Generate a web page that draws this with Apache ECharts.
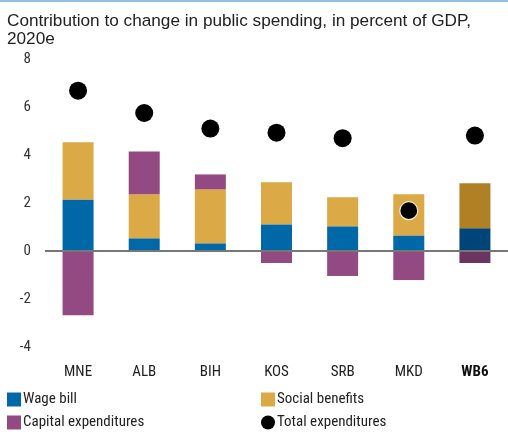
<!DOCTYPE html>
<html>
<head>
<meta charset="utf-8">
<style>
  html, body { margin: 0; padding: 0; background: #fff; }
  #chart { width: 508px; height: 434px; }
</style>
<script src="https://cdn.jsdelivr.net/npm/echarts@6/dist/echarts.min.js"></script>
</head>
<body>
<div id="chart"></div>
<script>
// Economies and their contributions (percent of GDP, 2020e)
const categories = ['MNE', 'ALB', 'BIH', 'KOS', 'SRB', 'MKD', 'WB6'];
const wageBill = [2.15, 0.53, 0.32, 1.11, 1.03, 0.65, 0.95];
const socialBenefits = [2.38, 1.83, 2.25, 1.75, 1.21, 1.71, 1.87];
const capitalExpenditures = [-2.68, 1.79, 0.62, -0.5, -1.04, -1.21, -0.5];
const totalExpenditures = [6.68, 5.75, 5.1, 4.93, 4.7, 1.68, 4.81];
const yTicks = [-4, -2, 0, 2, 4, 6, 8];

const narrow = '"Liberation Sans Narrow", "Roboto Condensed", "DejaVu Sans Condensed", "Liberation Sans", sans-serif';
const regular = '"Liberation Sans", Arial, sans-serif';

// Regional aggregate (last category) is drawn with darker shades
const palette = {
  wage: ['#0068a6', '#00457a'],
  social: ['#dba945', '#b08024'],
  capital: ['#934a83', '#6b3461']
};

function shaded(values, key) {
  return values.map((v, i) => ({
    value: v,
    itemStyle: { color: categories[i] === 'WB6' ? palette[key][1] : palette[key][0] }
  }));
}

// A dot that sits on top of a bar gets a thin light rim so it stays visible
function dots(values) {
  return values.map((v, i) => {
    const top = wageBill[i] + socialBenefits[i] + Math.max(capitalExpenditures[i], 0);
    const onBar = v > 0 && v < top;
    return onBar
      ? { value: v, itemStyle: { color: '#000', borderColor: '#f4ecd9', borderWidth: 1.2 } }
      : { value: v };
  });
}

function legendItem(name, left, top, icon) {
  return {
    data: [name],
    left: left,
    top: top,
    padding: 0,
    icon: icon,
    itemWidth: 14,
    itemHeight: 14,
    selectedMode: false,
    textStyle: { fontFamily: narrow, fontSize: 15, color: '#222', padding: [0, 0, 0, -3] }
  };
}

const chart = echarts.init(document.getElementById('chart'), null, { renderer: 'canvas' });

chart.setOption({
  animation: false,
  backgroundColor: '#fff',
  graphic: [
    { type: 'rect', left: 0, top: 0, shape: { width: 508, height: 2 }, style: { fill: '#8ec1e3' } }
  ],
  title: {
    text: 'Contribution to change in public spending, in percent of GDP,\n2020e',
    left: 7,
    top: 12,
    padding: 0,
    textStyle: { fontFamily: regular, fontSize: 17.2, fontWeight: 'normal', color: '#222', lineHeight: 18 }
  },
  legend: [
    legendItem('Wage bill', 7, 392, 'rect'),
    legendItem('Social benefits', 261, 392, 'rect'),
    legendItem('Capital expenditures', 7, 415, 'rect'),
    legendItem('Total expenditures', 261, 415, 'circle')
  ],
  grid: { left: 45, top: 59, width: 469, height: 288, containLabel: false },
  xAxis: {
    type: 'category',
    data: categories,
    axisLine: { show: false, onZero: false },
    axisTick: { show: false },
    axisLabel: {
      margin: 18,
      fontFamily: narrow,
      fontSize: 15,
      color: '#222',
      formatter: v => v === 'WB6' ? '{b|' + v + '}' : v,
      rich: { b: { fontFamily: narrow, fontSize: 15, fontWeight: 'bold', color: '#111' } }
    }
  },
  yAxis: {
    type: 'value',
    min: yTicks[0],
    max: yTicks[yTicks.length - 1],
    interval: 2,
    splitLine: { show: false },
    axisLine: { show: false },
    axisTick: { show: false },
    axisLabel: { margin: 14, fontFamily: narrow, fontSize: 15, color: '#333', padding: [3, 0, 0, 0] }
  },
  series: [
    {
      name: 'Wage bill',
      type: 'bar',
      stack: 'parts',
      barWidth: 31,
      itemStyle: { color: palette.wage[0] },
      data: shaded(wageBill, 'wage'),
      markLine: {
        silent: true,
        symbol: 'none',
        label: { show: false },
        lineStyle: { color: '#777', width: 2, type: 'solid' },
        data: [{ yAxis: 0 }],
        z: 5
      }
    },
    {
      name: 'Social benefits',
      type: 'bar',
      stack: 'parts',
      barWidth: 31,
      itemStyle: { color: palette.social[0] },
      data: shaded(socialBenefits, 'social')
    },
    {
      name: 'Capital expenditures',
      type: 'bar',
      stack: 'parts',
      barWidth: 31,
      itemStyle: { color: palette.capital[0] },
      data: shaded(capitalExpenditures, 'capital')
    },
    {
      name: 'Total expenditures',
      type: 'scatter',
      symbol: 'circle',
      symbolSize: 18,
      z: 10,
      itemStyle: { color: '#000', opacity: 1 },
      data: dots(totalExpenditures)
    }
  ]
});
</script>
</body>
</html>
